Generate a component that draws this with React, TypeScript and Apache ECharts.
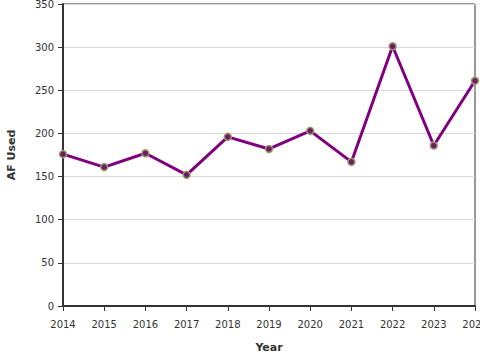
import React, { useEffect, useRef } from "react";
import * as echarts from "echarts";

const years = ["2014", "2015", "2016", "2017", "2018", "2019", "2020", "2021", "2022", "2023", "2024"];
const afUsed = [176, 161, 177, 152, 196, 182, 203, 167, 301, 186, 261];

export default function App() {
  const ref = useRef<HTMLDivElement>(null);
  useEffect(() => {
    if (!ref.current) return;
    const chart = echarts.init(ref.current, undefined, { renderer: "svg" });
    const font = "DejaVu Sans";
    chart.setOption({
      animation: false,
      textStyle: { fontFamily: font },
      grid: { left: 63, right: 5, top: 4, bottom: 54, show: true, borderColor: "#333", borderWidth: 1, containLabel: false, outerBoundsMode: "none" },
      xAxis: {
        type: "category",
        data: years,
        boundaryGap: false,
        name: "Year",
        nameLocation: "middle",
        nameGap: 36,
        nameTextStyle: { fontFamily: font, fontWeight: "bold", fontSize: 11, color: "#333" },
        axisLine: { lineStyle: { color: "#333", width: 2 } },
        axisTick: { show: true, length: 5, lineStyle: { color: "#333", width: 1 } },
        axisLabel: { fontFamily: font, fontSize: 10, color: "#333", margin: 13, hideOverlap: false },
        splitLine: { show: false },
      },
      yAxis: {
        type: "value",
        min: 0,
        max: 350,
        interval: 50,
        name: "AF Used",
        nameLocation: "middle",
        nameGap: 46,
        nameTextStyle: { fontFamily: font, fontWeight: "bold", fontSize: 11, color: "#333" },
        axisLine: { show: true, lineStyle: { color: "#333", width: 2 } },
        axisTick: { show: true, length: 5, lineStyle: { color: "#333", width: 1 } },
        axisLabel: { fontFamily: font, fontSize: 10, color: "#333", margin: 9 },
        splitLine: { show: true, lineStyle: { color: "#d9d9d9", width: 1 } },
      },
      series: [
        {
          type: "line",
          data: afUsed,
          symbol: "circle",
          symbolSize: 7,
          lineStyle: { color: "#800080", width: 3 },
          itemStyle: { color: "#6b1f5e", borderColor: "#9c9a6e", borderWidth: 1.5 },
        },
      ],
    });
    return () => chart.dispose();
  }, []);
  return <div ref={ref} style={{ width: 480, height: 360, position: "absolute", left: 0, top: 0 }} />;
}
